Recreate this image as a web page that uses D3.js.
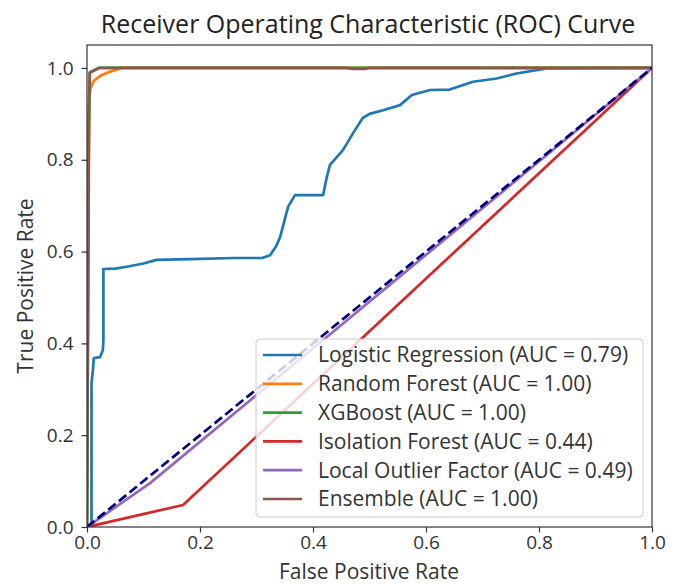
<!DOCTYPE html>
<html>
<head>
<meta charset="utf-8">
<script src="https://cdn.jsdelivr.net/npm/d3@7"></script>
<style>
  html, body { margin: 0; padding: 0; background: #fff; }
  svg { display: block; font-family: "Open Sans", sans-serif; }
</style>
</head>
<body>
<div id="chart"></div>
<script>
// ROC points: [FPR, TPR]
const logisticPts = [[0,0],[0.008,0],[0.008,0.313],[0.011,0.349],[0.012,0.368],[0.023,0.370],[0.028,0.385],[0.029,0.407],[0.029,0.562],[0.05,0.563],[0.07,0.567],[0.10,0.574],[0.123,0.582],[0.2,0.584],[0.26,0.586],[0.31,0.586],[0.324,0.592],[0.335,0.612],[0.342,0.632],[0.35,0.670],[0.356,0.698],[0.368,0.723],[0.418,0.723],[0.424,0.760],[0.430,0.789],[0.453,0.821],[0.471,0.858],[0.488,0.891],[0.500,0.900],[0.524,0.908],[0.554,0.919],[0.575,0.941],[0.607,0.952],[0.642,0.953],[0.683,0.970],[0.725,0.977],[0.760,0.988],[0.814,0.999],[1,1]];
const rfPts = [[0,0],[0.002,0.5],[0.004,0.93],[0.006,0.955],[0.012,0.972],[0.025,0.984],[0.041,0.992],[0.061,1],[1,1]];
const xgbPts = [[0,0],[0.003,0.8],[0.005,0.99],[0.02,1],[1,1]];
const isoPts = [[0,0],[0.170,0.048],[1,1]];
const lofPts = [[0,0],[0.111,0.095],[1,1]];
const ensPts = [[0,0],[0.003,0.9],[0.005,0.99],[0.022,1],[0.46,1],[0.47,0.998],[0.49,0.998],[0.50,1],[1,1]];
const diagPts = [[0,0],[1,1]];

const modelNames = ["Logistic Regression", "Random Forest", "XGBoost", "Isolation Forest", "Local Outlier Factor", "Ensemble"];
const aucValues = [0.79, 1.00, 1.00, 0.44, 0.49, 1.00];
const modelColors = ["#1f77b4", "#ff7f0e", "#2ca02c", "#d62728", "#9467bd", "#8c564b"];
const modelPts = [logisticPts, rfPts, xgbPts, isoPts, lofPts, ensPts];
const xTicks = [0, 0.2, 0.4, 0.6, 0.8, 1.0];
const yTicks = [0, 0.2, 0.4, 0.6, 0.8, 1.0];

const W = 678, H = 584;
const margin = { left: 87, right: 26, top: 45, bottom: 57 };
const textColor = '#333';

const svg = d3.select('#chart').append('svg')
    .attr('width', W)
    .attr('height', H);

const x = d3.scaleLinear().domain([0, 1]).range([margin.left, W - margin.right]);
const y = d3.scaleLinear().domain([0, 1.05]).range([H - margin.bottom, margin.top]);

const line = d3.line().x(d => x(d[0])).y(d => y(d[1]));

// Clip to axes area
svg.append('clipPath').attr('id', 'plotClip')
    .append('rect')
    .attr('x', margin.left).attr('y', margin.top)
    .attr('width', x(1) - margin.left)
    .attr('height', y(0) - margin.top);

const plot = svg.append('g').attr('clip-path', 'url(#plotClip)');

modelPts.forEach((pts, i) => {
    plot.append('path')
        .datum(pts)
        .attr('d', line)
        .attr('fill', 'none')
        .attr('stroke', modelColors[i])
        .attr('stroke-width', 2.7)
        .attr('stroke-linejoin', 'round');
});

plot.append('path')
    .datum(diagPts)
    .attr('d', line)
    .attr('fill', 'none')
    .attr('stroke', 'navy')
    .attr('stroke-width', 2.7)
    .attr('stroke-dasharray', '9.5,4.2');

// Axes
const xAxis = svg.append('g')
    .attr('transform', `translate(0,${y(0)})`)
    .call(d3.axisBottom(x).tickValues(xTicks).tickFormat(d3.format('.1f')).tickSize(5.5).tickPadding(3));
const yAxis = svg.append('g')
    .attr('transform', `translate(${margin.left},0)`)
    .call(d3.axisLeft(y).tickValues(yTicks).tickFormat(d3.format('.1f')).tickSize(5.5).tickPadding(8));

[xAxis, yAxis].forEach(a => {
    a.select('.domain').remove();
    a.selectAll('line').attr('stroke', textColor).attr('stroke-width', 1.2);
    a.selectAll('text')
        .attr('fill', textColor)
        .attr('font-size', '19px')
        .attr('font-family', '"Open Sans", sans-serif');
});

// Frame
svg.append('rect')
    .attr('x', margin.left).attr('y', margin.top)
    .attr('width', x(1) - margin.left)
    .attr('height', y(0) - margin.top)
    .attr('fill', 'none')
    .attr('stroke', textColor)
    .attr('stroke-width', 1.2);

// Title and labels
svg.append('text')
    .attr('x', 368)
    .attr('y', 33)
    .attr('text-anchor', 'middle')
    .attr('fill', '#222')
    .attr('font-size', '25px')
    .text('Receiver Operating Characteristic (ROC) Curve');

svg.append('text')
    .attr('x', 369)
    .attr('y', 579)
    .attr('text-anchor', 'middle')
    .attr('fill', textColor)
    .attr('font-size', '21px')
    .text('False Positive Rate');

svg.append('text')
    .attr('transform', `translate(33,286) rotate(-90)`)
    .attr('text-anchor', 'middle')
    .attr('fill', textColor)
    .attr('font-size', '21px')
    .text('True Positive Rate');

// Legend
const legend = svg.append('g').attr('transform', 'translate(256,339)');
legend.append('rect')
    .attr('width', 387).attr('height', 178)
    .attr('rx', 4)
    .attr('fill', '#fff').attr('fill-opacity', 0.8)
    .attr('stroke', '#ccc').attr('stroke-width', 1);

modelNames.forEach((name, i) => {
    const ly = 16 + i * 28.8;
    legend.append('line')
        .attr('x1', 7).attr('x2', 46)
        .attr('y1', ly).attr('y2', ly)
        .attr('stroke', modelColors[i])
        .attr('stroke-width', 2.7);
    legend.append('text')
        .attr('x', 62).attr('y', ly)
        .attr('dy', '0.35em')
        .attr('fill', textColor)
        .attr('font-size', '21px')
        .text(`${name} (AUC = ${aucValues[i].toFixed(2)})`);
});
</script>
</body>
</html>
